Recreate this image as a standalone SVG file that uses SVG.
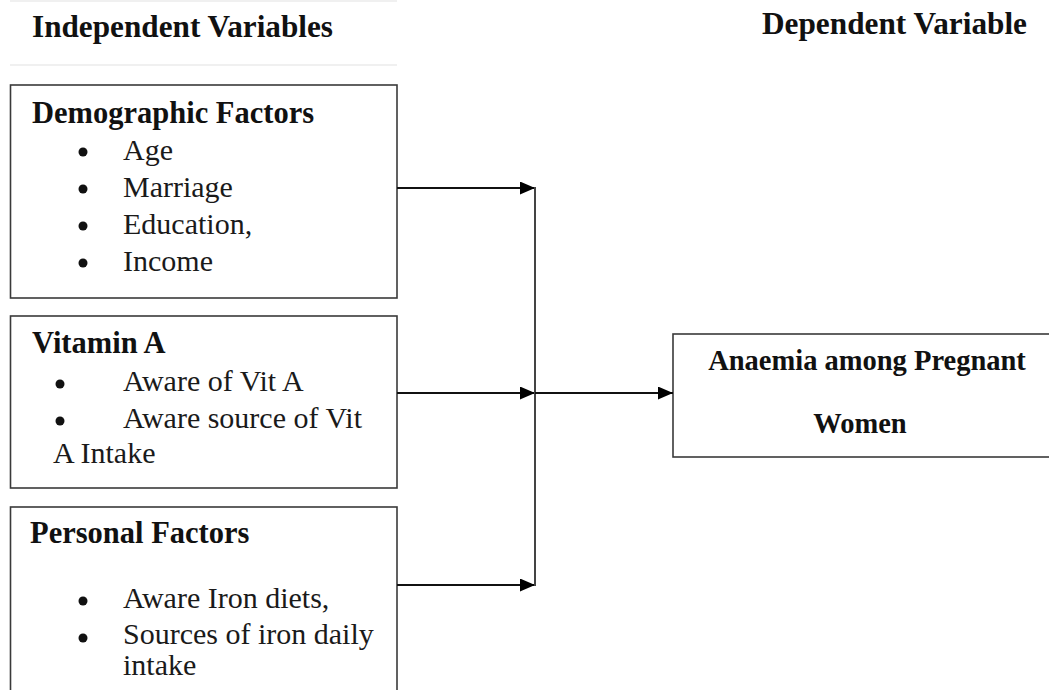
<svg xmlns="http://www.w3.org/2000/svg" width="1049" height="690" viewBox="0 0 1049 690">
  <style>
    .box { fill: #ffffff; stroke: #3a3a3a; stroke-width: 1.6; }
    .hdr { font-family: "Liberation Serif", "Times New Roman", serif; font-weight: bold; font-size: 31px; fill: #111; }
    .ttl { font-family: "Liberation Serif", "Times New Roman", serif; font-weight: bold; font-size: 30.5px; fill: #111; }
    .txt { font-family: "Liberation Serif", "Times New Roman", serif; font-size: 30px; fill: #1a1a1a; }
    .bul { fill: #111; }
    .dep { font-family: "Liberation Serif", "Times New Roman", serif; font-weight: bold; font-size: 28.5px; fill: #111; text-anchor: middle; }
    .conn { stroke: #111; stroke-width: 2; fill: none; }
    .faint { stroke: #f0f0f0; stroke-width: 2; }
  </style>
  <defs>
    <marker id="arrow" markerUnits="userSpaceOnUse" markerWidth="16" markerHeight="14" refX="15" refY="6.5" orient="auto">
      <path d="M0,0 L15,6.5 L0,13 Z" fill="#000"/>
    </marker>
  </defs>
  <rect width="1049" height="690" fill="#ffffff"/>

  <g id="headers">
    <line class="faint" x1="10" y1="1" x2="397" y2="1"/>
    <line class="faint" x1="10" y1="65" x2="397" y2="65"/>
    <text class="hdr" x="32" y="37" textLength="301" lengthAdjust="spacingAndGlyphs">Independent Variables</text>
    <text class="hdr" x="762" y="34" textLength="265" lengthAdjust="spacingAndGlyphs">Dependent Variable</text>
  </g>

  <g id="demographic">
    <rect class="box" x="10.5" y="85" width="386.5" height="213"/>
    <text class="ttl" x="32" y="123">Demographic Factors</text>
    <circle class="bul" cx="83" cy="152" r="4.5"/><text class="txt" x="123" y="160">Age</text>
    <circle class="bul" cx="83" cy="189" r="4.5"/><text class="txt" x="123" y="197">Marriage</text>
    <circle class="bul" cx="83" cy="226" r="4.5"/><text class="txt" x="123" y="234">Education,</text>
    <circle class="bul" cx="83" cy="263" r="4.5"/><text class="txt" x="123" y="271">Income</text>
  </g>

  <g id="vitamin-a">
    <rect class="box" x="10.5" y="316" width="386.5" height="172"/>
    <text class="ttl" x="32" y="353">Vitamin A</text>
    <circle class="bul" cx="60" cy="384" r="4.5"/><text class="txt" x="123" y="391">Aware of Vit A</text>
    <circle class="bul" cx="60" cy="421" r="4.5"/><text class="txt" x="123" y="428">Aware source of Vit</text>
    <text class="txt" x="53" y="463">A Intake</text>
  </g>

  <g id="personal">
    <rect class="box" x="10.5" y="507" width="386.5" height="200"/>
    <text class="ttl" x="30" y="543">Personal Factors</text>
    <circle class="bul" cx="83" cy="601" r="4.5"/><text class="txt" x="123" y="608">Aware Iron diets,</text>
    <circle class="bul" cx="83" cy="638" r="4.5"/><text class="txt" x="123" y="644">Sources of iron daily</text>
    <text class="txt" x="123" y="675">intake</text>
  </g>

  <g id="anaemia">
    <rect class="box" x="673" y="334" width="390" height="123"/>
    <text class="dep" x="867" y="370">Anaemia among Pregnant</text>
    <text class="dep" x="860" y="433">Women</text>
  </g>

  <g id="connectors">
    <line class="conn" x1="397" y1="188" x2="535" y2="188" marker-end="url(#arrow)"/>
    <line class="conn" x1="397" y1="393" x2="535" y2="393" marker-end="url(#arrow)"/>
    <line class="conn" x1="397" y1="585" x2="535" y2="585" marker-end="url(#arrow)"/>
    <line class="conn" x1="535" y1="187" x2="535" y2="586" style="stroke:#444"/>
    <line class="conn" x1="535" y1="393" x2="673" y2="393" marker-end="url(#arrow)"/>
  </g>
</svg>
